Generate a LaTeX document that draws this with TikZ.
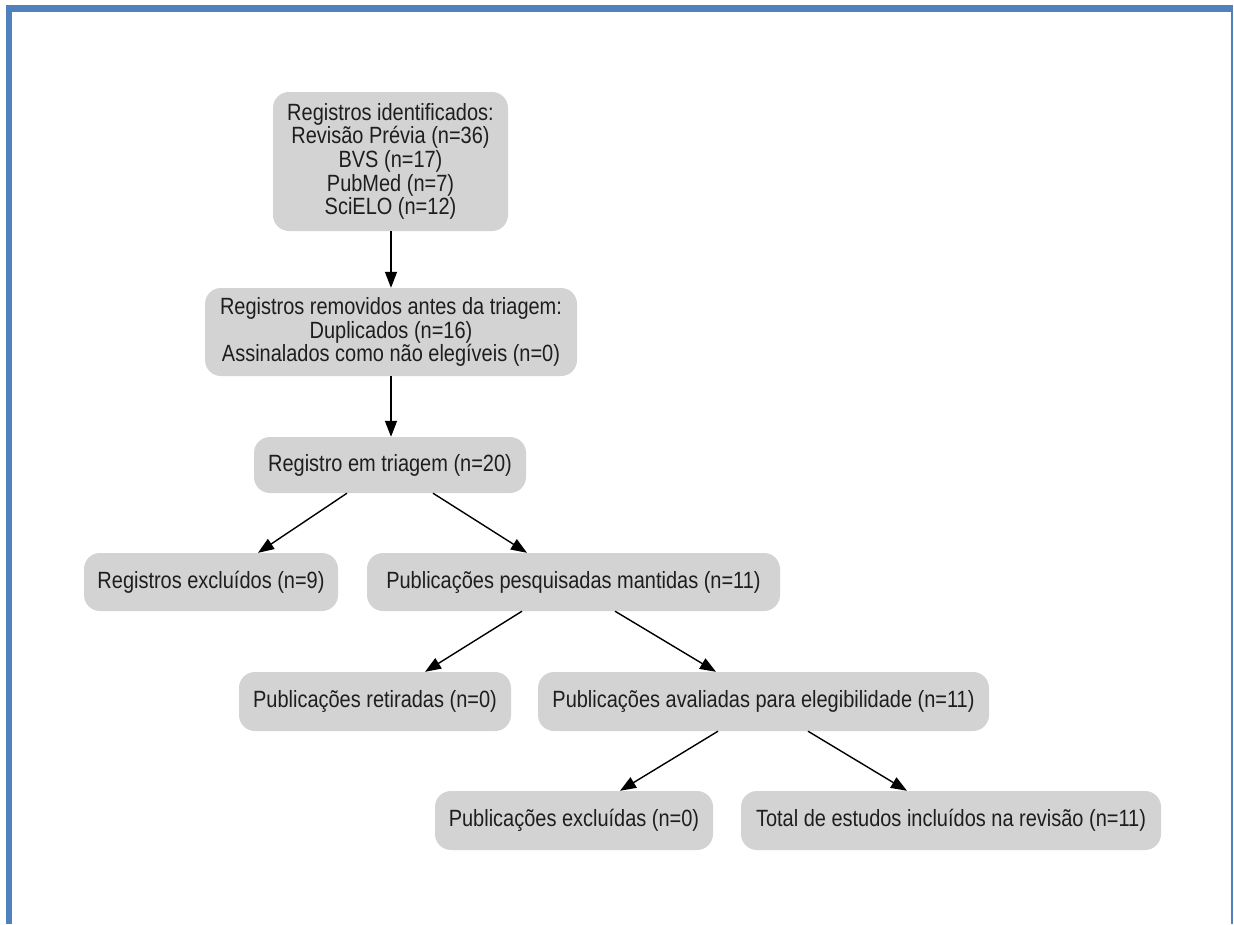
\documentclass[tikz,border=0pt]{standalone}
\usepackage{fontspec}
\setmainfont[FakeStretch=0.85]{Liberation Sans}
\usetikzlibrary{arrows.meta}
\definecolor{frameblue}{HTML}{4F81BD}
\definecolor{boxgray}{HTML}{D3D3D3}
\definecolor{txt}{HTML}{1E1E1E}
\begin{document}
\begin{tikzpicture}[x=1pt,y=-1pt,
  box/.style={fill=boxgray,rounded corners=16pt,inner sep=0pt,align=center,text=txt,
    font=\fontsize{23.5pt}{23.7pt}\selectfont},
  conn/.style={draw=black,line width=1.4pt,-{Triangle[length=16pt,width=12pt]}}]
\useasboundingbox (0,0) rectangle (1234,924);
\fill[white] (0,0) rectangle (1234,924);
% frame
\fill[frameblue] (6,5) rectangle (12,924);
\fill[frameblue] (6,5) rectangle (1233,12);
\fill[frameblue] (1231,5) rectangle (1233,924);
% nodes
\node[box,minimum width=235pt,minimum height=139pt] (n1) at (390.5,161.5)
  {Registros identificados:\\Revisão Prévia (n=36)\\BVS (n=17)\\PubMed (n=7)\\SciELO (n=12)};
\node[box,minimum width=372pt,minimum height=88pt] (n2) at (391,332)
  {Registros removidos antes da triagem:\\Duplicados (n=16)\\Assinalados como não elegíveis (n=0)};
\node[box,minimum width=272pt,minimum height=56pt] (n3) at (390,465)
  {Registro em triagem (n=20)};
\node[box,minimum width=254pt,minimum height=58pt] (n4) at (211,582)
  {Registros excluídos (n=9)};
\node[box,minimum width=413pt,minimum height=58pt] (n5) at (573.5,582)
  {Publicações pesquisadas mantidas (n=11)};
\node[box,minimum width=272pt,minimum height=59pt] (n6) at (375,701.5)
  {Publicações retiradas (n=0)};
\node[box,minimum width=451pt,minimum height=59pt] (n7) at (763.5,701.5)
  {Publicações avaliadas para elegibilidade (n=11)};
\node[box,minimum width=278pt,minimum height=59pt] (n8) at (574,820.5)
  {Publicações excluídas (n=0)};
\node[box,minimum width=420pt,minimum height=59pt] (n9) at (951,820.5)
  {Total de estudos incluídos na revisão (n=11)};
% connectors
\draw[conn] ([xshift=0.5pt]n1.south) -- (n2.north);
\draw[conn] (n2.south) -- ([xshift=1pt]n3.north);
\draw[conn] ([xshift=-43pt]n3.south) -- ([xshift=47pt]n4.north);
\draw[conn] ([xshift=43pt]n3.south) -- ([xshift=-46.5pt]n5.north);
\draw[conn] ([xshift=-51.5pt]n5.south) -- ([xshift=50pt]n6.north);
\draw[conn] ([xshift=41.5pt]n5.south) -- ([xshift=-47.5pt]n7.north);
\draw[conn] ([xshift=-45.5pt]n7.south) -- ([xshift=46pt]n8.north);
\draw[conn] ([xshift=44.5pt]n7.south) -- ([xshift=-44pt]n9.north);
\end{tikzpicture}
\end{document}
